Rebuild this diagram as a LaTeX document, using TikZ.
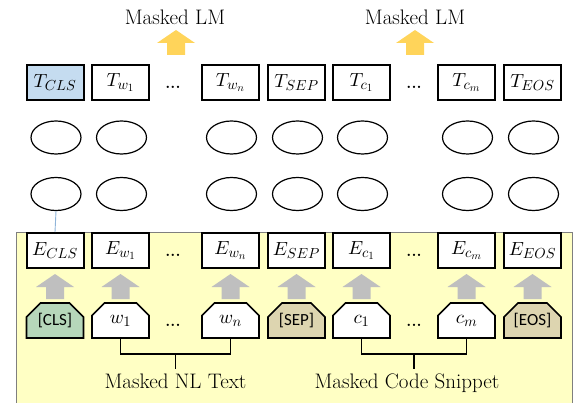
\documentclass[tikz,border=0pt]{standalone}
\usepackage{fontspec}
\newfontfamily\tokfont{Carlito}
\DeclareFontFamily{OML}{cmm}{\skewchar\font127 }
\DeclareFontShape{OML}{cmm}{m}{it}{<->cmmi10}{}
\DeclareFontShape{OT1}{cmr}{m}{n}{<->cmr10}{}
\DeclareFontFamily{OMS}{cmsy}{\skewchar\font48 }
\DeclareFontShape{OMS}{cmsy}{m}{n}{<->cmsy10}{}
\DeclareMathSizes{19}{19}{14.5}{11}
\usetikzlibrary{shapes.misc,shapes.geometric,calc}
\definecolor{bgyellow}{HTML}{FFFFC4}
\definecolor{bgborder}{HTML}{7F7F7F}
\definecolor{clsgreen}{HTML}{B6D7BA}
\definecolor{septan}{HTML}{DDD5B0}
\definecolor{tblue}{HTML}{C5DCF0}
\definecolor{arrgray}{HTML}{BFBFBF}
\definecolor{arryellow}{HTML}{FFD45A}
\definecolor{linkblue}{HTML}{8FB4D9}
\tikzset{
  tbox/.style={draw, line width=2pt, minimum width=57pt, minimum height=35pt, inner sep=0pt, fill=white,
    font=\fontsize{19}{22}\selectfont},
  ell/.style={ellipse, draw, line width=1.2pt, minimum width=50pt, minimum height=33pt, inner sep=0pt},
  tok/.style={chamfered rectangle, chamfered rectangle corners={north west,north east},
    chamfered rectangle xsep=7pt, chamfered rectangle ysep=7pt,
    draw, line width=1.6pt, minimum width=57pt, minimum height=35pt, inner sep=0pt, fill=white,
    font=\fontsize{19}{22}\selectfont},
  dots/.style={font=\bfseries\fontsize{16}{18}\selectfont, inner sep=0pt},
  lbl/.style={font=\fontsize{21}{24}\selectfont, inner sep=0pt},
  bracket/.style={draw, line width=1.6pt},
  blockup/.pic={\fill[#1] (-9,0) -- (-9,-12) -- (-19,-12) -- (0,-25) -- (19,-12) -- (9,-12) -- (9,0) -- cycle;},
}
\newcommand\tokname[1]{\raisebox{-2pt}{\tokfont\fontsize{17}{20}\selectfont #1}}
\begin{document}
\begin{tikzpicture}[x=1pt,y=-1pt]
\useasboundingbox (0,0) rectangle (588,403);
% background
\fill[bgyellow] (16,232) rectangle (572,403);
\draw[bgborder, line width=0.9pt] (16,403) -- (16,232) -- (572,232) -- (572,403);

% columns
\foreach \x/\n/\tl/\el/\kl/\kf in {
  55/1/{$T_{CLS}$}/{$E_{CLS}$}/{\tokname{[CLS]}}/clsgreen,
  120.5/2/{$T_{w_1}$}/{$E_{w_1}$}/{$w_1$}/white,
  230.5/3/{$T_{w_n}$}/{$E_{w_n}$}/{$w_n$}/white,
  296.5/4/{$T_{SEP}$}/{$E_{SEP}$}/{\tokname{[SEP]}}/septan,
  361.5/5/{$T_{c_1}$}/{$E_{c_1}$}/{$c_1$}/white,
  466.5/6/{$T_{c_m}$}/{$E_{c_m}$}/{$c_m$}/white,
  532.5/7/{$T_{EOS}$}/{$E_{EOS}$}/{\tokname{[EOS]}}/septan}{
  \node[tbox] (t\n) at (\x,82.5) {\tl};
  \node[ell] (ea\n) at (\x+1,137.5) {};
  \node[ell] (eb\n) at (\x+1,194) {};
  \node[tbox] (e\n) at (\x,250.5) {\el};
  \node[tok, fill=\kf] (k\n) at (\x,320.5) {\kl};
  \pic at (\x,299) {blockup=arrgray};
}
\node[tbox, fill=tblue] at (t1) {$T_{CLS}$};

% dots
\foreach \y in {87,255,325}{
  \node[dots] (dl\y) at (173,\y) {...};
  \node[dots] (dr\y) at (414,\y) {...};
}

% yellow arrows and Masked LM
\pic at (176,55) {blockup=arryellow};
\pic at (415,55) {blockup=arryellow};
\node[lbl, anchor=base] (mlm1) at (175,25) {Masked LM};
\node[lbl, anchor=base] (mlm2) at (415,25) {Masked LM};

% link
\draw[linkblue, line width=0.9pt] (eb1.south) -- (e1.north);

% brackets
\node[lbl, anchor=base] (nl) at (175.5,388) {Masked NL Text};
\node[lbl, anchor=base] (code) at (407,388) {Masked Code Snippet};
\draw[bracket] (k2.south) -- ++(0,15) coordinate (b1) -| (k3.south);
\draw[bracket] ($(b1)!0.5!(k3.south |- b1)$) -- ++(0,15) coordinate (b1t);
\draw[bracket] (k5.south) -- ++(0,15) coordinate (b2) -| (k6.south);
\draw[bracket] ($(b2)!0.5!(k6.south |- b2)$) -- ++(0,15) coordinate (b2t);
\end{tikzpicture}
\end{document}
